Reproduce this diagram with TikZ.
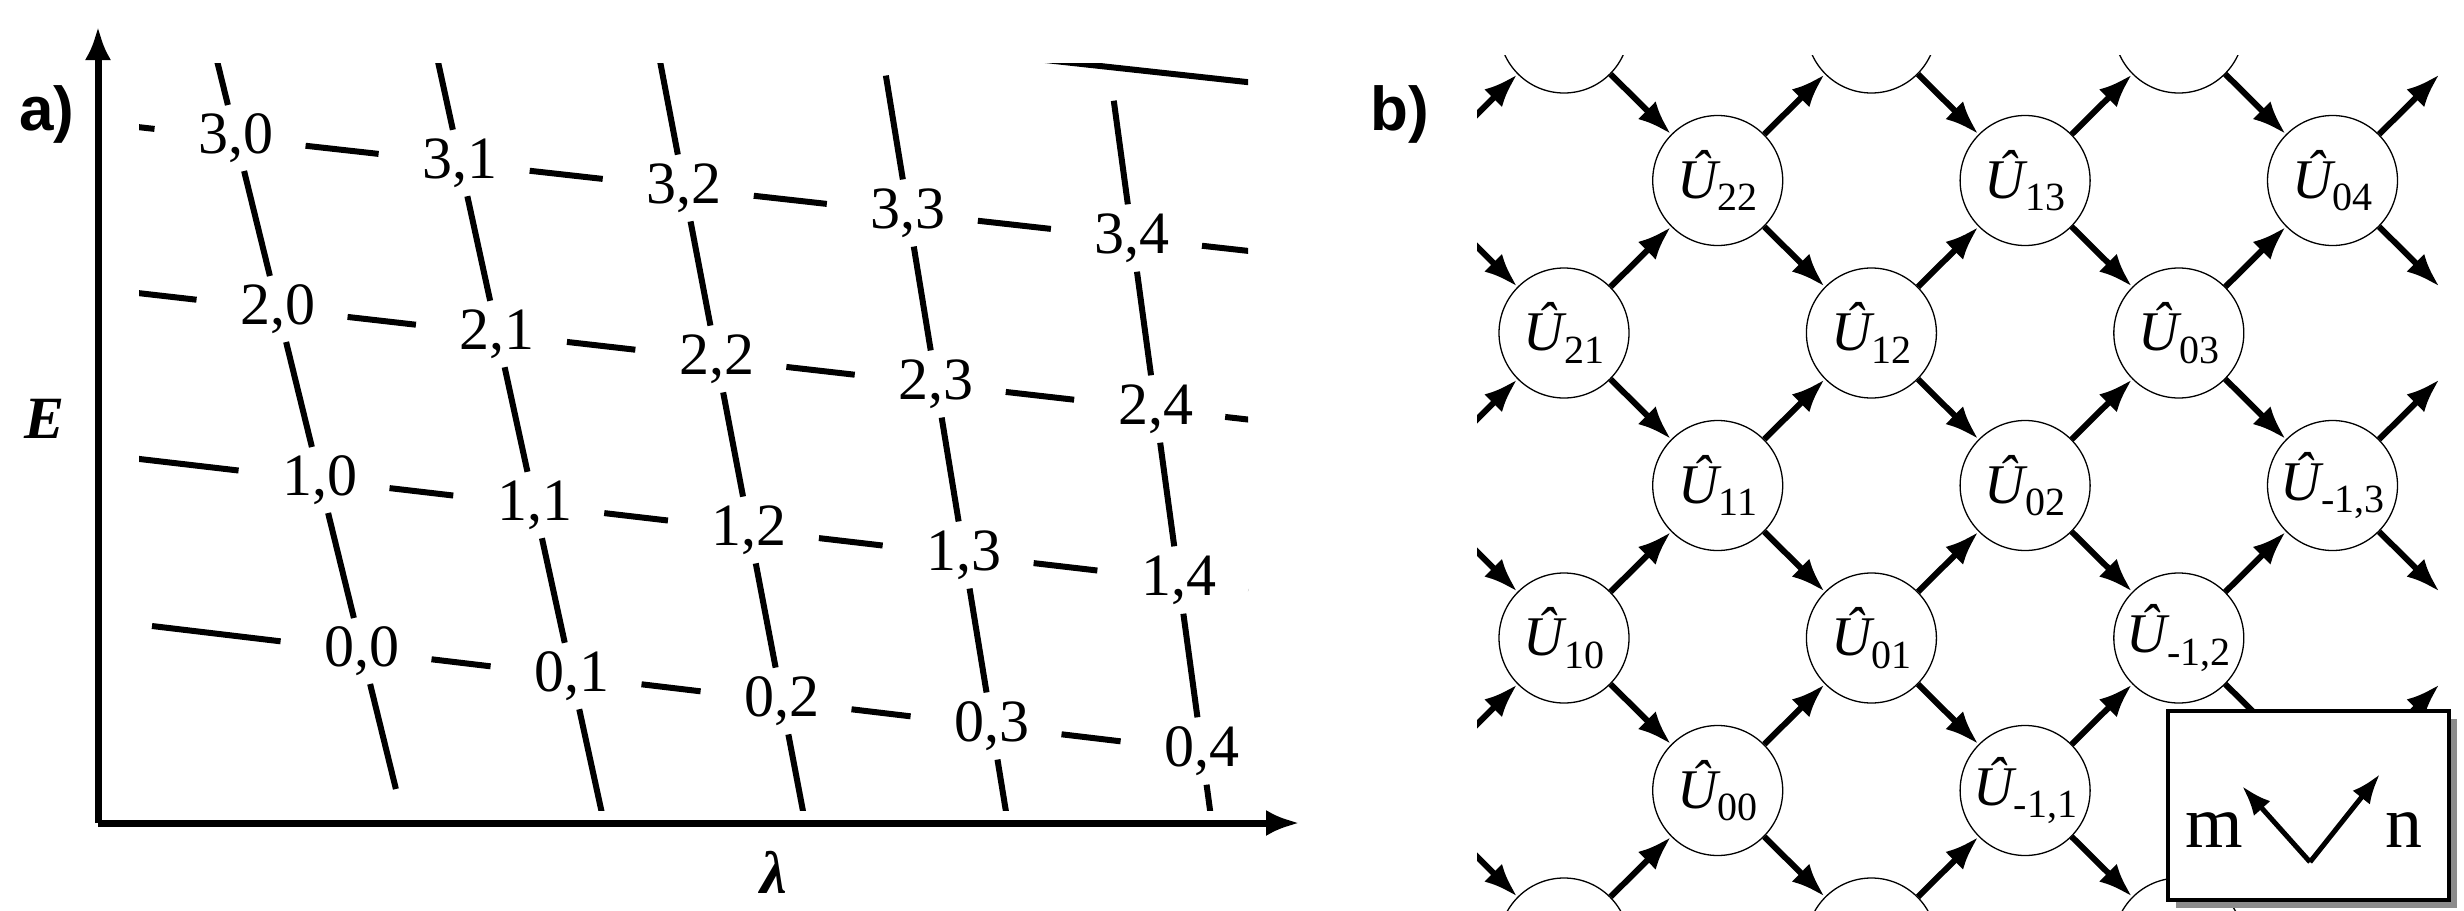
\documentclass[tikz,border=0pt]{standalone}
\usepackage{fontspec}
\setmainfont{Liberation Serif}
\newfontfamily\panelfont{Liberation Sans}
\usetikzlibrary{arrows.meta}
\tikzset{
  lvl/.style={line width=6pt},
  axis/.style={line width=7pt, -{Latex[length=34pt,width=26pt]}},
  ucirc/.style={circle, draw, line width=1.3pt, minimum size=130pt, inner sep=0pt, fill=white},
  hop/.style={line width=6pt, -{Latex[length=34pt,width=25pt]}},
  pair/.style={font=\fontsize{60}{60}\selectfont},
}
\newcommand{\Uop}[1]{{\itshape\^U}\raisebox{-0.22em}{\fontsize{40}{40}\selectfont #1}}
\begin{document}
\begin{tikzpicture}[x=1pt, y=-1pt]
  \useasboundingbox (0,0) rectangle (2464,910);
  % panel a
  \node[font=\panelfont\bfseries\fontsize{62}{62}\selectfont] (lba) at (47,114) {a)};
  \node[font=\bfseries\itshape\fontsize{60}{60}\selectfont] (lbE) at (45,419) {E};
  \node[font=\bfseries\itshape\fontsize{60}{60}\selectfont] (lbl) at (774,872) {λ};
  \coordinate (o) at (98,823);
  \coordinate (ytip) at (98,26);
  \coordinate (xtip) at (1300,823);
  \draw[axis] (o) -- (ytip);
  \draw[axis] (o) -- (xtip);
  \foreach \i in {-1,...,5}
    \foreach \j in {-1,...,6}{
      \pgfmathsetmacro\px{362+210*\j-42*\i+4.7*\i*\j}
      \pgfmathsetmacro\py{651+25*\j-171*\i}
      \coordinate (p\i q\j) at (\px,\py);
    }
  \begin{scope}
    \clip (139,63) rectangle (1248,810);
    % columns
    \foreach \i in {-1,...,4}
      \foreach \j in {0,...,5}{
        \pgfmathtruncatemacro\ii{\i+1}
        \draw[lvl, shorten >=34pt, shorten <=34pt] (p\i q\j) -- (p\ii q\j);
      }
    % rows
    \foreach \i in {0,...,3}{
      \draw[lvl, shorten >=82pt] (p\i q-1) -- (p\i q0);
      \foreach \j in {0,...,5}{
        \pgfmathtruncatemacro\jj{\j+1}
        \draw[lvl, shorten >=82pt, shorten <=70pt] (p\i q\j) -- (p\i q\jj);
      }
    }
    \draw[lvl] (p4q2) -- (p4q6);
  \end{scope}
  \foreach \i in {0,...,3}
    \foreach \j in {0,...,4}
      \node[pair] (lab\i\j) at (p\i q\j) {\i,\j};
  % panel b
  \node[font=\panelfont\bfseries\fontsize{62}{62}\selectfont] (lbb) at (1400,114) {b)};
  \begin{scope}
    \clip (1477,55) rectangle (2449,910);
    \foreach \c in {-1,...,6}
      \foreach \r in {-1,...,7}{
        \pgfmathtruncatemacro\odd{mod(\c+\r+20,2)}
        \ifnum\odd=0
          \ifnum\c<6
            \node[ucirc] (u\c r\r) at (1564+153.7*\c, 28+152.5*\r) {};
          \else
            \node[ucirc, draw=none, fill=none] (u\c r\r) at (1564+153.7*\c, 28+152.5*\r) {};
          \fi
        \fi
      }
    \foreach \c in {-1,...,5}
      \foreach \r in {0,...,6}{
        \pgfmathtruncatemacro\odd{mod(\c+\r+20,2)}
        \pgfmathtruncatemacro\cc{\c+1}
        \pgfmathtruncatemacro\rd{\r+1}
        \pgfmathtruncatemacro\ru{\r-1}
        \ifnum\odd=0
          \draw[hop] (u\c r\r) -- (u\cc r\rd);
          \draw[hop] (u\c r\r) -- (u\cc r\ru);
        \fi
      }
    \foreach \c/\r/\t in {1/1/22, 3/1/13, 5/1/04, 0/2/21, 2/2/12, 4/2/03,
        1/3/11, 3/3/02, 5/3/{-1,3}, 0/4/10, 2/4/01, 4/4/{-1,2}, 1/5/00, 3/5/{-1,1}}
      \node[font=\fontsize{56}{56}\selectfont] (t\c r\r) at (u\c r\r) {\Uop{\t}};
  \end{scope}
  % inset
  \fill[black!45] (2176,719) rectangle (2457,908);
  \node[draw, line width=4pt, fill=white, minimum width=281pt, minimum height=189pt,
    inner sep=0pt] (key) at (2308.5,805.5) {};
  \coordinate (kv) at (2310,862);
  \coordinate (km) at (2242,786);
  \coordinate (kn) at (2380,774);
  \draw[line width=5pt, -{Latex[length=30pt,width=22pt]}] (kv) -- (km);
  \draw[line width=5pt, -{Latex[length=30pt,width=22pt]}] (kv) -- (kn);
  \node[font=\fontsize{74}{74}\selectfont] (lm) at (2214,830) {m};
  \node[font=\fontsize{74}{74}\selectfont] (ln) at (2404,830) {n};
\end{tikzpicture}
\end{document}
